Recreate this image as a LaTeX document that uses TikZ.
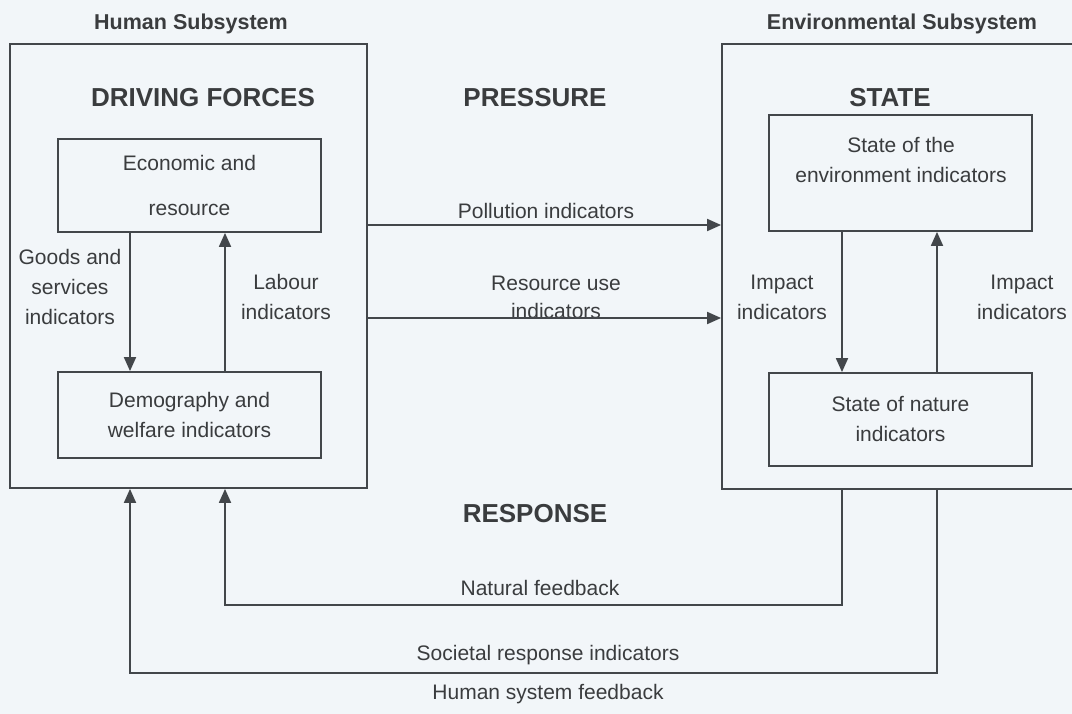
\documentclass[tikz,border=0pt]{standalone}
\usepackage{fontspec}
\setmainfont{Liberation Sans}
\usetikzlibrary{arrows.meta}
\definecolor{bg}{HTML}{F2F6F9}
\definecolor{ink}{HTML}{43474B}
\definecolor{txt}{HTML}{3A3C3E}
\begin{document}
\begin{tikzpicture}[x=1pt,y=-1pt,
  frame/.style={draw=ink, line width=1.8pt, inner sep=0pt},
  arr/.style={draw=ink, line width=1.8pt, -{Triangle[length=14pt,width=12pt]}},
  lbl/.style={text=txt, font=\fontsize{21}{30}\selectfont, align=center, inner sep=0pt},
  head/.style={text=txt, font=\fontsize{26}{30}\selectfont\bfseries, inner sep=0pt},
  sub/.style={text=txt, font=\fontsize{21.5}{24}\selectfont\bfseries, inner sep=0pt}]
\fill[bg] (0,0) rectangle (1072,714);
\useasboundingbox (0,0) rectangle (1072,714);
\clip (0,0) rectangle (1072,714);

% subsystem frames
\node[frame, minimum width=357pt, minimum height=444pt] (hs) at (188.5,266) {};
\node[frame, minimum width=360pt, minimum height=445pt] (es) at (902,266.5) {};

% inner indicator boxes
\node[frame, lbl, minimum width=263pt, minimum height=93pt] (econ) at (189.5,185.5) {Economic and\\[15pt]resource};
\node[frame, lbl, minimum width=263pt, minimum height=86pt] (demo) at (189.5,415) {Demography and\\welfare indicators};
\node[frame, minimum width=263pt, minimum height=116pt] (env) at (900.5,173) {};
\node[lbl] (envtxt) at (901,160) {State of the\\environment indicators};
\node[frame, lbl, minimum width=263pt, minimum height=93pt] (nat) at (900.5,419.5) {State of nature\\indicators};

% headings
\node[sub] (hsub) at (191,24) {Human Subsystem};
\node[sub] (esub) at (902,24) {Environmental Subsystem};
\node[head] (df) at (203,98) {DRIVING FORCES};
\node[head] (pr) at (535,98) {PRESSURE};
\node[head] (st) at (890,98) {STATE};
\node[head] (re) at (535,514) {RESPONSE};

% connector labels
\node[lbl] (goods) at (70,287) {Goods and\\services\\indicators};
\node[lbl] (labour) at (286,297) {Labour\\indicators};
\node[lbl] (poll) at (546,211) {Pollution indicators};
\node[lbl] (res) at (556,283) {Resource use};
\begin{scope}
  % the lower edge of this label is hidden by the arrow line
  \clip (367,290) rectangle (722,318);
  \node[lbl] (resind) at (556,311) {indicators};
\end{scope}
\node[lbl] (imp1) at (782,297) {Impact\\indicators};
\node[lbl] (imp2) at (1022,297) {Impact\\indicators};
\node[lbl] (natfb) at (540,588) {Natural feedback};
\node[lbl] (soc) at (548,655) {Societal response indicators};
\node[lbl] (hfb) at (548,694) {Human system feedback};

% connector positions
\coordinate (xg) at (130,0);
\coordinate (xl) at (225,0);
\coordinate (xi) at (842,0);
\coordinate (xo) at (937,0);
\coordinate (yp) at (0,225);
\coordinate (yr) at (0,318);
\coordinate (yn) at (0,605);
\coordinate (ys) at (0,673);

% connectors
\draw[arr] (econ.south -| xg) -- (demo.north -| xg);
\draw[arr] (demo.north -| xl) -- (econ.south -| xl);
\draw[arr] (hs.east |- yp) -- (es.west |- yp);
\draw[arr] (hs.east |- yr) -- (es.west |- yr);
\draw[arr] (env.south -| xi) -- (nat.north -| xi);
\draw[arr] (nat.north -| xo) -- (env.south -| xo);
\draw[arr] (es.south -| xi) -- (xi |- yn) -- (xl |- yn) -- (hs.south -| xl);
\draw[arr] (es.south -| xo) -- (xo |- ys) -- (xg |- ys) -- (hs.south -| xg);
\end{tikzpicture}
\end{document}
